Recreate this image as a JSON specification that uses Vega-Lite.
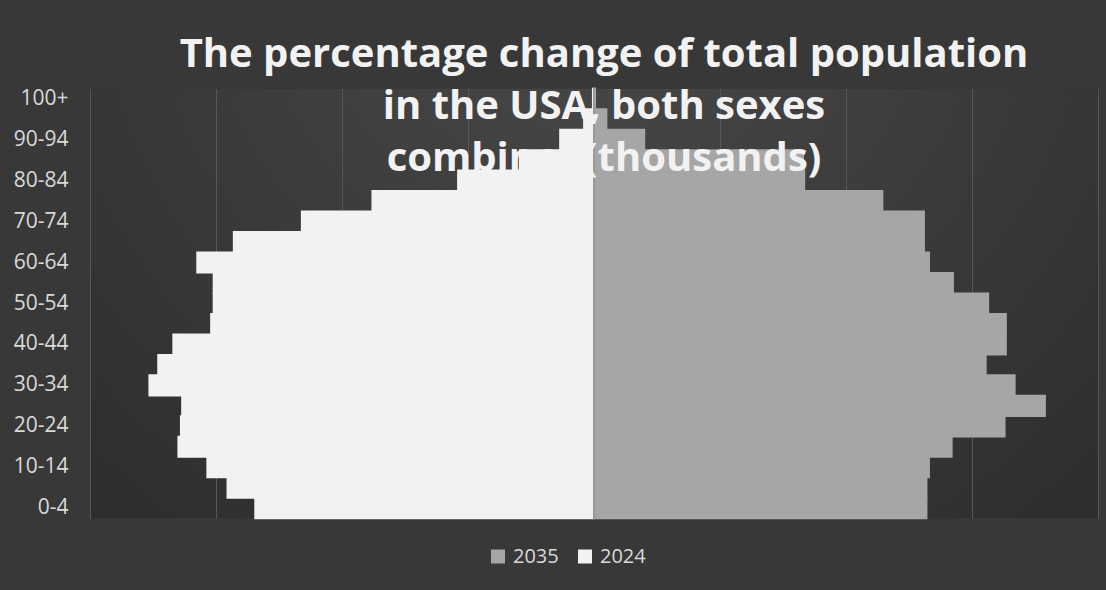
{
  "$schema": "https://vega.github.io/schema/vega-lite/v6.json",
  "width": 1008,
  "height": 430,
  "autosize": {"type": "none"},
  "padding": {"left": 90, "top": 88.5, "right": 8, "bottom": 71.5},
  "background": "#383838",
  "config": {
    "view": {"stroke": null, "fill": {"gradient": "radial", "x1": 0.5, "y1": 0.15, "r1": 0, "x2": 0.5, "y2": 0.15, "r2": 0.75, "stops": [{"offset": 0, "color": "#4a4a4a"}, {"offset": 1, "color": "#2d2d2d"}]}},
    "font": "Open Sans"
  },
  "title": {
    "text": ["The percentage change of total population", "in the USA, both sexes", "combined(thousands)"],
    "font": "Open Sans",
    "fontWeight": "bold",
    "fontSize": 40,
    "color": "#f2f2f2",
    "lineHeight": 52,
    "anchor": "middle",
    "baseline": "alphabetic",
    "offset": -124,
    "dx": 10
  },
  "data": {
    "values": [
      {"age": "0-4", "year": "2024", "value": -2.69},
      {"age": "5-9", "year": "2024", "value": -2.91},
      {"age": "10-14", "year": "2024", "value": -3.07},
      {"age": "15-19", "year": "2024", "value": -3.30},
      {"age": "20-24", "year": "2024", "value": -3.28},
      {"age": "25-29", "year": "2024", "value": -3.27},
      {"age": "30-34", "year": "2024", "value": -3.53},
      {"age": "35-39", "year": "2024", "value": -3.46},
      {"age": "40-44", "year": "2024", "value": -3.34},
      {"age": "45-49", "year": "2024", "value": -3.04},
      {"age": "50-54", "year": "2024", "value": -3.02},
      {"age": "55-59", "year": "2024", "value": -3.02},
      {"age": "60-64", "year": "2024", "value": -3.15},
      {"age": "65-69", "year": "2024", "value": -2.86},
      {"age": "70-74", "year": "2024", "value": -2.32},
      {"age": "75-79", "year": "2024", "value": -1.76},
      {"age": "80-84", "year": "2024", "value": -1.08},
      {"age": "85-89", "year": "2024", "value": -0.59},
      {"age": "90-94", "year": "2024", "value": -0.27},
      {"age": "95-99", "year": "2024", "value": -0.08},
      {"age": "100+", "year": "2024", "value": -0.01},
      {"age": "0-4", "year": "2035", "value": 2.64},
      {"age": "5-9", "year": "2035", "value": 2.64},
      {"age": "10-14", "year": "2035", "value": 2.66},
      {"age": "15-19", "year": "2035", "value": 2.84},
      {"age": "20-24", "year": "2035", "value": 3.26},
      {"age": "25-29", "year": "2035", "value": 3.58},
      {"age": "30-34", "year": "2035", "value": 3.34},
      {"age": "35-39", "year": "2035", "value": 3.11},
      {"age": "40-44", "year": "2035", "value": 3.27},
      {"age": "45-49", "year": "2035", "value": 3.27},
      {"age": "50-54", "year": "2035", "value": 3.13},
      {"age": "55-59", "year": "2035", "value": 2.85},
      {"age": "60-64", "year": "2035", "value": 2.66},
      {"age": "65-69", "year": "2035", "value": 2.62},
      {"age": "70-74", "year": "2035", "value": 2.62},
      {"age": "75-79", "year": "2035", "value": 2.29},
      {"age": "80-84", "year": "2035", "value": 1.67},
      {"age": "85-89", "year": "2035", "value": 1.66},
      {"age": "90-94", "year": "2035", "value": 0.40},
      {"age": "95-99", "year": "2035", "value": 0.10},
      {"age": "100+", "year": "2035", "value": 0.01}
    ]
  },
  "layer": [
    {
      "mark": {"type": "bar", "strokeWidth": 1.6},
      "encoding": {
        "y": {
          "field": "age",
          "type": "nominal",
          "sort": ["100+", "95-99", "90-94", "85-89", "80-84", "75-79", "70-74", "65-69", "60-64", "55-59", "50-54", "45-49", "40-44", "35-39", "30-34", "25-29", "20-24", "15-19", "10-14", "5-9", "0-4"],
          "scale": {"paddingInner": 0, "paddingOuter": 0},
          "axis": {
            "title": null,
            "values": ["100+", "90-94", "80-84", "70-74", "60-64", "50-54", "40-44", "30-34", "20-24", "10-14", "0-4"],
            "ticks": false,
            "domain": false,
            "grid": false,
            "labelFont": "Open Sans",
            "labelFontSize": 21,
            "labelColor": "#d9d9d9",
            "labelPadding": 22
          }
        },
        "x": {
          "field": "value",
          "type": "quantitative",
          "stack": null,
          "scale": {"domain": [-4, 4], "nice": false},
          "axis": {
            "title": null,
            "labels": false,
            "ticks": false,
            "domain": false,
            "values": [-4, -3, -2, -1, 0, 1, 2, 3, 4],
            "grid": true,
            "gridColor": "#575757",
            "gridWidth": 1
          }
        },
        "color": {
          "field": "year",
          "type": "nominal",
          "scale": {"domain": ["2035", "2024"], "range": ["#a6a6a6", "#f2f2f2"]},
          "legend": {
            "title": null,
            "orient": "none",
            "legendX": 398,
            "legendY": 458,
            "direction": "horizontal",
            "symbolType": "square",
            "symbolSize": 196,
            "symbolStrokeWidth": 0,
            "labelFont": "Open Sans",
            "labelFontSize": 20,
            "labelColor": "#d9d9d9",
            "labelOffset": 5,
            "columnPadding": 16
          }
        },
        "stroke": {
          "field": "year",
          "type": "nominal",
          "scale": {"domain": ["2035", "2024"], "range": ["#a6a6a6", "#f2f2f2"]},
          "legend": null
        }
      }
    },
    {
      "mark": {"type": "rule", "color": "#9a9a9a", "strokeWidth": 1.5},
      "encoding": {"x": {"datum": 0}}
    }
  ]
}
